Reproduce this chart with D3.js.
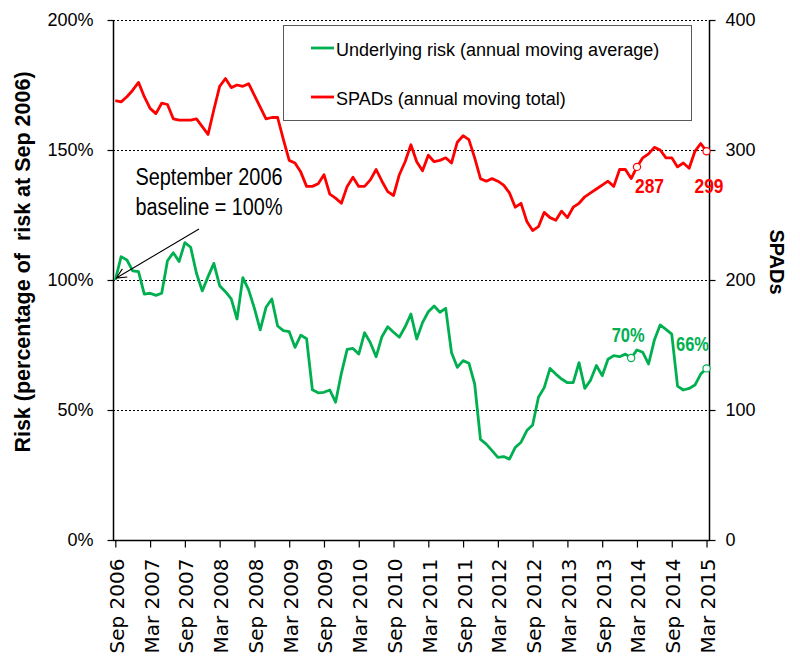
<!DOCTYPE html>
<html>
<head>
<meta charset="utf-8">
<script src="https://cdn.jsdelivr.net/npm/d3@7"></script>
<style>
  html, body { margin: 0; padding: 0; background: #fff; }
  svg { display: block; }
  text { fill: #000; }
</style>
</head>
<body>
<svg id="chart" width="800" height="660"></svg>
<script>
// ---------------- DATA ----------------
// monthly points, Sep 2006 (index 0) ... Mar 2015 (index 102)
const riskPct = [
  100, 109.0, 107.7, 103.5, 103.2, 94.6, 94.9, 94.1, 94.9, 107.4,
  110.5, 107.1, 114.4, 112.6, 102.6, 95.8, 101.3, 106.4, 97.8, 95.5,
  92.7, 85.0, 100.9, 96.2, 89.1, 80.8, 89.5, 92.7, 82.3, 80.5,
  80.1, 74.1, 78.8, 77.4, 57.8, 56.6, 56.8, 57.7, 53.0, 64.1,
  73.3, 73.7, 71.5, 79.7, 75.9, 70.5, 78.2, 82.0, 79.9, 78.0,
  82.0, 86.9, 77.3, 83.6, 87.8, 90.0, 87.6, 89.1, 72.1, 66.4,
  69.0, 68.0, 60.0, 38.7, 36.9, 34.4, 31.8, 32.1, 31.1, 35.6,
  37.6, 42.1, 44.2, 54.9, 58.6, 66.0, 63.8, 61.9, 60.5, 60.5,
  68.2, 58.3, 61.5, 67.1, 63.2, 69.5, 70.9, 70.5, 71.5, 70.0,
  73.1, 72.2, 67.7, 76.9, 82.7, 81.0, 79.2, 59.2, 57.7, 58.3,
  59.6, 63.8, 66.0
];
const spads = [
  338, 337, 341, 346, 352, 341, 332, 328, 336, 335,
  324, 323, 323, 323, 324, 318, 312, 331, 349, 355,
  348, 350, 349, 351, 342, 333, 324, 325, 325, 308,
  292, 290, 283, 272, 272, 274, 281, 266, 263, 259,
  272, 279, 272, 272, 277, 285, 276, 268, 265, 281,
  291, 304, 291, 284, 296, 291, 292, 294, 290, 306,
  311, 308, 294, 278, 276, 278, 276, 273, 267, 256,
  259, 245, 238, 241, 252, 248, 246, 253, 248, 256,
  259, 264, 267, 270, 273, 276, 272, 285, 285, 278,
  287, 294, 297, 302, 300, 294, 294, 287, 290, 286,
  299, 305, 299
];
const tickLabels = [
  "Sep 2006", "Mar 2007", "Sep 2007", "Mar 2008", "Sep 2008", "Mar 2009",
  "Sep 2009", "Mar 2010", "Sep 2010", "Mar 2011", "Sep 2011", "Mar 2012",
  "Sep 2012", "Mar 2013", "Sep 2013", "Mar 2014", "Sep 2014", "Mar 2015"
];
const leftTicks = [0, 50, 100, 150, 200];
const rightTicks = [0, 100, 200, 300, 400];
const seriesNames = ["Underlying risk (annual moving average)", "SPADs (annual moving total)"];
// highlighted points: [index, label]
const riskLabels = [[89, "70%"], [102, "66%"]];
const spadLabels = [[90, "287"], [102, "299"]];

// ---------------- STYLE / LAYOUT ----------------
const GREEN = "#00b050", RED = "#ff0000";
const plot = { left: 113, right: 710, top: 20, bottom: 540 };
const SANS = "'Liberation Sans', Arial, sans-serif";
const NARROW = "'Liberation Sans Narrow', 'Arial Narrow', 'Liberation Sans', sans-serif";

const svg = d3.select("#chart");

const x = d3.scaleLinear().domain([-0.4, 102.6]).range([plot.left, plot.right]);
const yL = d3.scaleLinear().domain([0, 200]).range([plot.bottom, plot.top]);
const yR = d3.scaleLinear().domain([0, 400]).range([plot.bottom, plot.top]);

// gridlines (dotted)
svg.append("g").selectAll("line").data(leftTicks.filter(d => d > 0)).join("line")
  .attr("x1", plot.left).attr("x2", plot.right)
  .attr("y1", d => yL(d) + 0.5).attr("y2", d => yL(d) + 0.5)
  .attr("stroke", "#000").attr("stroke-width", 1).attr("stroke-dasharray", "2,2");

// left axis
const gL = svg.append("g").attr("transform", `translate(${plot.left + 0.5},0)`)
  .call(d3.axisLeft(yL).tickValues(leftTicks).tickFormat(d => d + "%").tickSize(6).tickPadding(14));
// right axis
const gR = svg.append("g").attr("transform", `translate(${plot.right - 0.5},0)`)
  .call(d3.axisRight(yR).tickValues(rightTicks).tickSize(6).tickPadding(10));
// bottom axis
const tickIdx = tickLabels.map((d, i) => i * 6);
const gB = svg.append("g").attr("transform", `translate(0,${plot.bottom + 0.5})`)
  .call(d3.axisBottom(x).tickValues(tickIdx).tickFormat((d, i) => tickLabels[i]).tickSize(7).tickSizeOuter(0));
gB.select(".domain").attr("d", `M${plot.left},0H${plot.right}`);

[gL, gR, gB].forEach(g => {
  g.selectAll(".domain").attr("stroke", "#000").attr("stroke-width", 1.5);
  g.selectAll(".tick line").attr("stroke", "#000").attr("stroke-width", 1.2);
});
gL.select(".domain").attr("d", `M0,${plot.top}V${plot.bottom}`);
gR.select(".domain").attr("d", `M0,${plot.top}V${plot.bottom}`);
gL.selectAll("text").attr("font-family", SANS).attr("font-size", 18).attr("fill", "#000");
gR.selectAll("text").attr("font-family", SANS).attr("font-size", 18).attr("fill", "#000");
gB.selectAll("text")
  .attr("font-family", "'DejaVu Sans', sans-serif").attr("font-size", 20).attr("fill", "#000")
  .attr("text-anchor", "end")
  .attr("transform", "rotate(-90)")
  .attr("x", -18).attr("y", 8).attr("dy", 0);

// lines
const lineL = d3.line().x((d, i) => x(i)).y(d => yL(d));
const lineR = d3.line().x((d, i) => x(i)).y(d => yR(d));
svg.append("path").datum(spads).attr("d", lineR)
  .attr("fill", "none").attr("stroke", RED).attr("stroke-width", 2.8).attr("stroke-linejoin", "round");
svg.append("path").datum(riskPct).attr("d", lineL)
  .attr("fill", "none").attr("stroke", GREEN).attr("stroke-width", 2.8).attr("stroke-linejoin", "round");

// highlighted markers + labels
function fitText(sel, width) {
  sel.each(function () {
    const len = this.getComputedTextLength();
    if (Math.abs(len - width) > 2) {
      d3.select(this).attr("textLength", width).attr("lengthAdjust", "spacingAndGlyphs");
    }
  });
}
svg.append("g").selectAll("circle").data(riskLabels).join("circle")
  .attr("cx", d => x(d[0])).attr("cy", d => yL(riskPct[d[0]])).attr("r", 3.6)
  .attr("fill", "#fff").attr("stroke", GREEN).attr("stroke-width", 1.2);
svg.append("g").selectAll("circle").data(spadLabels).join("circle")
  .attr("cx", d => x(d[0])).attr("cy", d => yR(spads[d[0]])).attr("r", 3.6)
  .attr("fill", "#fff").attr("stroke", RED).attr("stroke-width", 1.2);

const riskOff = [[-3, -16], [-14, -17]];
svg.append("g").selectAll("text").data(riskLabels).join("text")
  .attr("x", (d, i) => x(d[0]) + riskOff[i][0]).attr("y", (d, i) => yL(riskPct[d[0]]) + riskOff[i][1])
  .attr("text-anchor", "middle")
  .attr("font-family", NARROW).attr("font-weight", "bold").attr("font-size", 21)
  .style("fill", GREEN).text(d => d[1])
  .call(fitText, 33);
const spadOff = [[-2, 26], [-12, 42]];
svg.append("g").selectAll("text").data(spadLabels).join("text")
  .attr("x", (d, i) => x(d[0]) + spadOff[i][0]).attr("y", (d, i) => yR(spads[d[0]]) + spadOff[i][1])
  .attr("font-family", NARROW).attr("font-weight", "bold").attr("font-size", 21)
  .style("fill", RED).text(d => d[1])
  .call(fitText, 29);

// legend
const lg = svg.append("g");
lg.append("rect").attr("x", 283.5).attr("y", 25.5).attr("width", 408).attr("height", 95)
  .attr("fill", "#fff").attr("stroke", "#595959").attr("stroke-width", 1);
[[GREEN, 48, 56], [RED, 97, 105]].forEach((c, i) => {
  lg.append("line").attr("x1", 311).attr("x2", 334).attr("y1", c[1]).attr("y2", c[1])
    .attr("stroke", c[0]).attr("stroke-width", 2.8);
  lg.append("text").attr("x", 336).attr("y", c[2])
    .attr("font-family", SANS).attr("font-size", 18).text(seriesNames[i]);
});

// annotation
const ann = svg.append("g");
ann.append("text").attr("x", 209).attr("y", 185).attr("text-anchor", "middle")
  .attr("font-family", NARROW).attr("font-size", 23).text("September 2006").call(fitText, 147);
ann.append("text").attr("x", 209).attr("y", 215).attr("text-anchor", "middle")
  .attr("font-family", NARROW).attr("font-size", 23).text("baseline = 100%").call(fitText, 147);
const ax0 = 199, ay0 = 229, ax1 = x(0) + 1, ay1 = yL(100) - 2;
const ang = Math.atan2(ay1 - ay0, ax1 - ax0);
const hl = 11, ha = 0.45;
ann.append("path")
  .attr("d", `M${ax0},${ay0}L${ax1},${ay1}` +
    `M${ax1 - hl * Math.cos(ang - ha)},${ay1 - hl * Math.sin(ang - ha)}L${ax1},${ay1}` +
    `L${ax1 - hl * Math.cos(ang + ha)},${ay1 - hl * Math.sin(ang + ha)}`)
  .attr("fill", "none").attr("stroke", "#000").attr("stroke-width", 1.1);

// axis titles
svg.append("text").attr("transform", "translate(30,262) rotate(-90)")
  .attr("text-anchor", "middle").attr("font-family", SANS).attr("font-weight", "bold")
  .attr("font-size", 21.5).style("white-space", "pre")
  .text("Risk (percentage of  risk at Sep 2006)");
svg.append("text").attr("transform", "translate(770,262) rotate(90)")
  .attr("text-anchor", "middle").attr("font-family", SANS).attr("font-weight", "bold")
  .attr("font-size", 20).text("SPADs");
</script>
</body>
</html>
